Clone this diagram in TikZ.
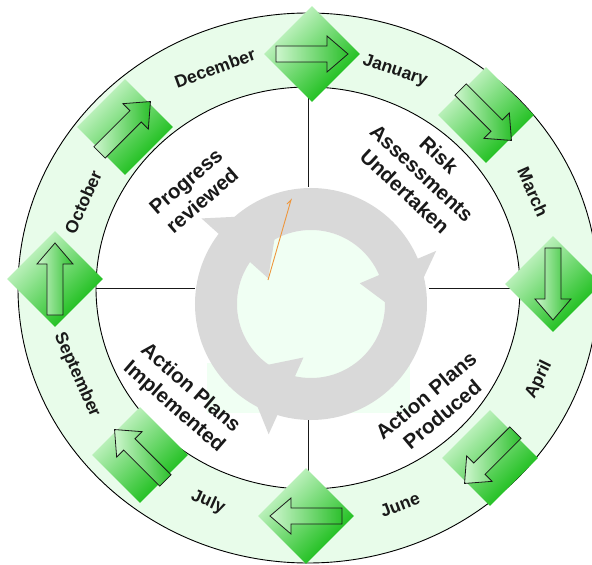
\documentclass[tikz,border=0pt]{standalone}
\usepackage{fontspec}
\setmainfont{Liberation Sans}
\usetikzlibrary{shapes.geometric}

\definecolor{bandgreen}{RGB}{232,252,234}
\definecolor{tilelight}{RGB}{214,249,214}
\definecolor{tiledark}{RGB}{8,184,8}
\definecolor{arrowlight}{RGB}{205,246,205}
\definecolor{arrowdark}{RGB}{45,192,45}
\definecolor{ringgray}{RGB}{217,217,217}
\definecolor{coregreen}{RGB}{240,255,243}
\definecolor{strayorange}{RGB}{238,150,60}
\definecolor{inkblack}{RGB}{25,25,25}

\tikzset{
  tile/.style={diamond, minimum width=96pt, minimum height=96pt, inner sep=0pt,
    top color=tilelight, bottom color=tiledark, shading angle=45},
  blockarr/.style={draw=inkblack, line width=0.8pt, line join=miter,
    left color=arrowlight, right color=arrowdark},
  monthlabel/.style={text=inkblack, font=\fontsize{17.5}{19}\selectfont\bfseries, inner sep=0pt},
  phaselabel/.style={text=inkblack, font=\fontsize{20.5}{25}\selectfont\bfseries,
    align=center, inner sep=0pt}
}

\begin{document}
\begin{tikzpicture}[x=1pt,y=1pt]
\useasboundingbox (-308,-277) rectangle (284,288);

% month band
\fill[bandgreen, even odd rule] (0,0) ellipse [x radius=290, y radius=275]
  (0,0) ellipse [x radius=212, y radius=201];
\draw[line width=0.9pt] (0,0) ellipse [x radius=290, y radius=275];
\draw[line width=0.9pt] (0,0) ellipse [x radius=212, y radius=201];

% quarter lines
\draw[line width=0.6pt, inkblack] (0,201) -- (0,101);
\draw[line width=0.6pt, inkblack] (0,-125) -- (0,-201);
\draw[line width=0.6pt, inkblack] (-212,0) -- (-113,0);
\draw[line width=0.6pt, inkblack] (121,0) -- (212,0);

% grey cycle
\fill[coregreen] (-101,-75) rectangle (102,-125);
\fill[coregreen] (3,-16) circle [radius=74];
\fill[ringgray, even odd rule] (3,-16) circle [radius=116] (3,-16) circle [radius=74];
\fill[ringgray, shift={(3,-16)}] (142:139) -- (149:50) -- (110:95) -- cycle;
\fill[ringgray, shift={(3,-16)}] (23:136) -- (23:53) -- (-8:95) -- cycle;
\fill[ringgray, shift={(3,-16)}] (252:137) -- (262:54) -- (224:95) -- cycle;
\draw[strayorange, line width=0.9pt] (-40,8) -- (-17,88) -- (-21,84);

% phases
\node[phaselabel, rotate=41] (progress) at (-114,97) {Progress\\reviewed};
\node[phaselabel, rotate=-43] (risk) at (114,115) {Risk\\Assessments\\Undertaken};
\node[phaselabel, rotate=40] (produced) at (126,-117) {Action Plans\\Produced};
\node[phaselabel, rotate=-41] (implemented) at (-126,-110) {Action Plans\\Implemented};

% months
\node[monthlabel, rotate=20] (dec) at (-93,220) {December};
\node[monthlabel, rotate=-19] (jan) at (87,217) {January};
\node[monthlabel, rotate=-66] (mar) at (225,96) {March};
\node[monthlabel, rotate=64] (apr) at (231,-92) {April};
\node[monthlabel, rotate=21] (jun) at (92,-217) {June};
\node[monthlabel, rotate=-24] (jul) at (-100,-214) {July};
\node[monthlabel, rotate=-66] (sep) at (-231,-87) {September};
\node[monthlabel, rotate=66] (oct) at (-225,86) {October};

% tiles
\node[tile] (ttop) at (4,234) {};
\node[tile] (tupright) at (178,173) {};
\node[tile] (tright) at (245,4) {};
\node[tile] (tdownright) at (182,-170) {};
\node[tile] (tbottom) at (-2,-228) {};
\node[tile] (tdownleft) at (-168,-167) {};
\node[tile] (tleft) at (-253,9) {};
\node[tile] (tupleft) at (-183,161) {};

% arrows on tiles
\draw[blockarr, shift={(ttop.center)}, rotate=0] (-36,-8) -- (15,-8) -- (15,-18) -- (36,0) -- (15,18) -- (15,8) -- (-36,8) -- cycle;
\draw[blockarr, shift={(tupright.center)}, rotate=-45] (-36,-8) -- (15,-8) -- (15,-18) -- (36,0) -- (15,18) -- (15,8) -- (-36,8) -- cycle;
\draw[blockarr, shift={(tright.center)}, rotate=-90] (-36,-8) -- (15,-8) -- (15,-18) -- (36,0) -- (15,18) -- (15,8) -- (-36,8) -- cycle;
\draw[blockarr, shift={(tdownright.center)}, rotate=-135] (-36,-8) -- (15,-8) -- (15,-18) -- (36,0) -- (15,18) -- (15,8) -- (-36,8) -- cycle;
\draw[blockarr, shift={(tbottom.center)}, rotate=180] (-36,-8) -- (15,-8) -- (15,-18) -- (36,0) -- (15,18) -- (15,8) -- (-36,8) -- cycle;
\draw[blockarr, shift={(tdownleft.center)}, rotate=135] (-36,-8) -- (15,-8) -- (15,-18) -- (36,0) -- (15,18) -- (15,8) -- (-36,8) -- cycle;
\draw[blockarr, shift={(tleft.center)}, rotate=90] (-36,-8) -- (15,-8) -- (15,-18) -- (36,0) -- (15,18) -- (15,8) -- (-36,8) -- cycle;
\draw[blockarr, shift={(tupleft.center)}, rotate=45] (-36,-8) -- (15,-8) -- (15,-18) -- (36,0) -- (15,18) -- (15,8) -- (-36,8) -- cycle;
\end{tikzpicture}
\end{document}
